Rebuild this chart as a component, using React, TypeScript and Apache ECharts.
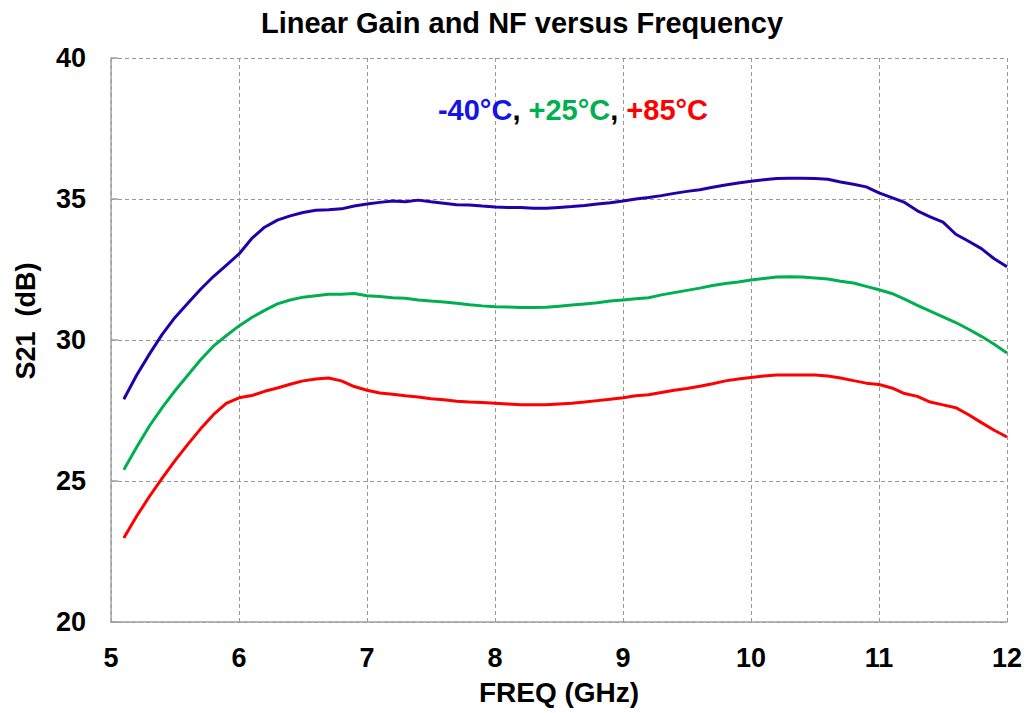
import React, { useEffect, useRef } from "react";
import * as echarts from "echarts";

const freqGHz = [
  5.1, 5.2, 5.3, 5.4, 5.5, 5.6, 5.7, 5.8, 5.9, 6.0,
  6.1, 6.2, 6.3, 6.4, 6.5, 6.6, 6.7, 6.8, 6.9, 7.0,
  7.1, 7.2, 7.3, 7.4, 7.5, 7.6, 7.7, 7.8, 7.9, 8.0,
  8.1, 8.2, 8.3, 8.4, 8.5, 8.6, 8.7, 8.8, 8.9, 9.0,
  9.1, 9.2, 9.3, 9.4, 9.5, 9.6, 9.7, 9.8, 9.9, 10.0,
  10.1, 10.2, 10.3, 10.4, 10.5, 10.6, 10.7, 10.8, 10.9, 11.0,
  11.1, 11.2, 11.3, 11.4, 11.5, 11.6, 11.7, 11.8, 11.9, 12.0,
];

const s21Minus40 = [
  27.9, 28.75, 29.5, 30.2, 30.8, 31.3, 31.8, 32.25, 32.65, 33.05,
  33.6, 34.0, 34.25, 34.4, 34.52, 34.6, 34.62, 34.65, 34.75, 34.82,
  34.88, 34.93, 34.9, 34.96, 34.9, 34.85, 34.8, 34.79, 34.75, 34.72,
  34.7, 34.7, 34.67, 34.67, 34.7, 34.73, 34.77, 34.82, 34.87, 34.93,
  35.0, 35.05, 35.12, 35.2, 35.27, 35.33, 35.42, 35.5, 35.57, 35.63,
  35.68, 35.73, 35.74, 35.74, 35.73, 35.7, 35.6, 35.52, 35.43, 35.22,
  35.05, 34.88, 34.58, 34.37, 34.18, 33.75, 33.5, 33.24, 32.88, 32.6,
];

const s21Plus25 = [
  25.4, 26.2, 26.95, 27.6, 28.2, 28.75, 29.3, 29.78, 30.15, 30.5,
  30.8, 31.05, 31.28, 31.42, 31.52, 31.57, 31.62, 31.62, 31.65, 31.57,
  31.54, 31.5, 31.48, 31.42, 31.38, 31.35, 31.3, 31.25, 31.21, 31.18,
  31.17, 31.15, 31.15, 31.16, 31.2, 31.24, 31.28, 31.32, 31.38, 31.42,
  31.46, 31.5, 31.6, 31.68, 31.76, 31.84, 31.93, 32.0, 32.06, 32.13,
  32.18, 32.23, 32.24, 32.23, 32.2, 32.16, 32.08, 32.02, 31.9, 31.78,
  31.65, 31.45, 31.23, 31.02, 30.82, 30.62, 30.38, 30.13, 29.85, 29.54,
];

const s21Plus85 = [
  22.98, 23.75, 24.45, 25.1, 25.72, 26.3, 26.85, 27.35, 27.75, 27.95,
  28.03, 28.18, 28.3, 28.43, 28.55, 28.62, 28.65, 28.55, 28.35, 28.22,
  28.12, 28.08, 28.02, 27.98, 27.92, 27.88, 27.83, 27.8, 27.78, 27.76,
  27.73, 27.7, 27.7, 27.7, 27.73, 27.76, 27.8, 27.85, 27.9, 27.95,
  28.02, 28.06, 28.14, 28.22, 28.28, 28.36, 28.45, 28.55, 28.62, 28.67,
  28.72, 28.76, 28.76, 28.76, 28.76, 28.72, 28.65, 28.56, 28.47, 28.42,
  28.3, 28.1, 28.0, 27.8, 27.7, 27.6, 27.35, 27.07, 26.8, 26.56,
];

const seriesNames = ["-40°C", "+25°C", "+85°C"];
const seriesColors = ["#2200AA", "#00B050", "#FF0000"];
const legendColors = ["#1414E6", "#00B050", "#FF0000"];

const FONT = "'Liberation Sans', Arial, Helvetica, sans-serif";

export default function App() {
  const ref = useRef<HTMLDivElement>(null);

  useEffect(() => {
    if (!ref.current) return;
    const chart = echarts.init(ref.current, undefined, { renderer: "svg" });
    const allValues = [s21Minus40, s21Plus25, s21Plus85];
    const series = allValues.map((vals, i) => ({
      name: seriesNames[i],
      type: "line",
      data: freqGHz.map((f, k) => [f, vals[k]]),
      showSymbol: false,
      symbol: "none",
      lineStyle: { color: seriesColors[i], width: 3 },
      itemStyle: { color: seriesColors[i] },
      z: 3,
    }));

    chart.setOption({
      animation: false,
      backgroundColor: "#ffffff",
      textStyle: { fontFamily: FONT },
      title: {
        text: "Linear Gain and NF versus Frequency",
        left: 517,
        top: 3,
        textAlign: "center",
        textStyle: { fontFamily: FONT, fontWeight: "bold", fontSize: 29, color: "#000" },
      },
      grid: { left: 111, top: 58, right: 23, bottom: 91, containLabel: false },
      xAxis: {
        type: "value",
        min: 5,
        max: 12,
        interval: 1,
        name: "FREQ (GHz)",
        nameLocation: "middle",
        nameGap: 56,
        nameTextStyle: { fontFamily: FONT, fontWeight: "bold", fontSize: 28, color: "#000" },
        axisLine: { show: true, lineStyle: { color: "#A0A0A0", width: 1.5 } },
        axisTick: { show: false },
        axisLabel: { fontFamily: FONT, fontWeight: "bold", fontSize: 27, color: "#000", margin: 22 },
        splitLine: { show: true, lineStyle: { color: "#999999", type: [4, 3], width: 1 } },
      },
      yAxis: {
        type: "value",
        min: 20,
        max: 40,
        interval: 5,
        axisLine: { show: true, lineStyle: { color: "#A0A0A0", width: 1.5 } },
        axisTick: { show: true, inside: true, length: 7, lineStyle: { color: "#A0A0A0", width: 1.5 } },
        axisLabel: { fontFamily: FONT, fontWeight: "bold", fontSize: 27, color: "#000", margin: 25 },
        splitLine: { show: true, lineStyle: { color: "#999999", type: [4, 3], width: 1 } },
      },
      graphic: [
        {
          type: "text",
          x: 26,
          y: 321,
          rotation: Math.PI / 2,
          style: {
            text: "S21  (dB)",
            fontFamily: FONT,
            fontWeight: "bold",
            fontSize: 27,
            fill: "#000",
            align: "center",
            verticalAlign: "middle",
          },
        },
        {
          type: "text",
          x: 573,
          y: 110,
          style: {
            text:
              "{a|" + seriesNames[0] + "}{k|, }{b|" + seriesNames[1] + "}{k|, }{c|" + seriesNames[2] + "}",
            align: "center",
            verticalAlign: "middle",
            fontFamily: FONT,
            fontWeight: "bold",
            fontSize: 29,
            rich: {
              a: { fill: legendColors[0], fontFamily: FONT, fontWeight: "bold", fontSize: 29 },
              b: { fill: legendColors[1], fontFamily: FONT, fontWeight: "bold", fontSize: 29 },
              c: { fill: legendColors[2], fontFamily: FONT, fontWeight: "bold", fontSize: 29 },
              k: { fill: "#000", fontFamily: FONT, fontWeight: "bold", fontSize: 29 },
            },
          },
          z: 10,
        },
      ],
      series,
    });

    return () => chart.dispose();
  }, []);

  return (
    <div
      ref={ref}
      style={{ position: "absolute", left: 0, top: 0, width: 1030, height: 713, background: "#fff" }}
    />
  );
}
